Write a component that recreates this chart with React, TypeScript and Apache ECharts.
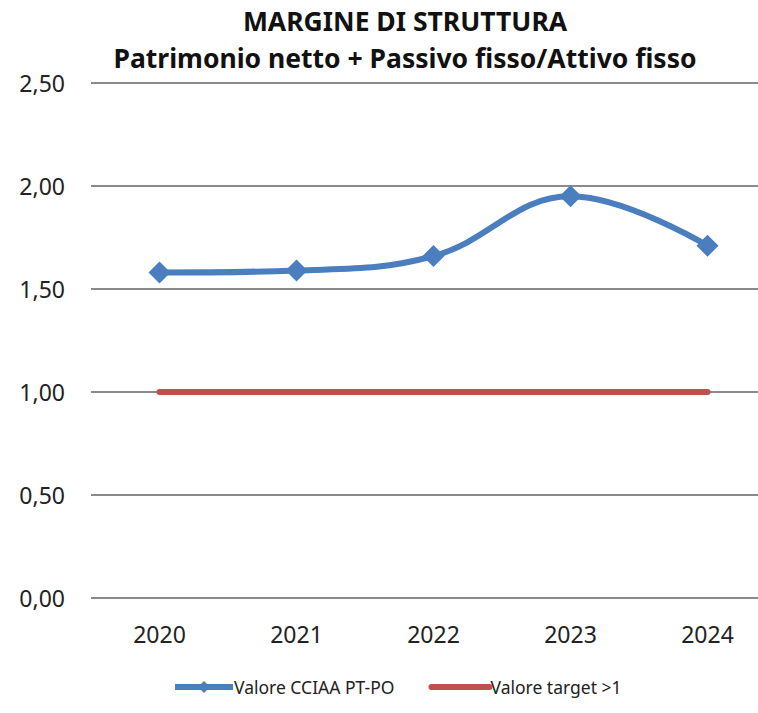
import React, { useEffect, useRef } from "react";
import * as echarts from "echarts";

const categories = ["2020", "2021", "2022", "2023", "2024"];
const valoreCCIAA = [1.58, 1.59, 1.66, 1.95, 1.71];
const valoreTarget = [1, 1, 1, 1, 1];
const seriesNames = ["Valore CCIAA PT-PO", "Valore target >1"];
const titleLines = ["MARGINE DI STRUTTURA", "Patrimonio netto + Passivo fisso/Attivo fisso"];

const FONT = "'Noto Sans', sans-serif";

export default function App() {
  const ref = useRef<HTMLDivElement>(null);
  useEffect(() => {
    if (!ref.current) return;
    const chart = echarts.init(ref.current, null, { renderer: "svg" });
    chart.setOption({
      animation: false,
      backgroundColor: "#ffffff",
      title: {
        text: titleLines.join("\n"),
        left: 400,
        textAlign: "center",
        top: -3,
        textStyle: {
          fontFamily: FONT,
          fontWeight: "bold",
          fontSize: 26.5,
          lineHeight: 37,
          color: "#111",
        },
      },
      grid: { left: 91, width: 685, top: 83, bottom: 115, outerBoundsMode: "none", containLabel: false },
      legend: {
        bottom: 12,
        left: 167,
        itemGap: 34,
        itemWidth: 58,
        itemHeight: 15,
        lineStyle: { width: 6 },
        textStyle: { fontFamily: FONT, fontSize: 17.5, color: "#222", padding: [0, 0, 0, -4] },
        data: [
          { name: seriesNames[0] },
          { name: seriesNames[1], itemStyle: { opacity: 0 } },
        ],
      },
      xAxis: {
        type: "category",
        data: categories,
        boundaryGap: true,
        axisLine: { show: false },
        axisTick: { show: false },
        axisLabel: { fontFamily: FONT, fontSize: 23, color: "#222", margin: 24 },
      },
      yAxis: {
        type: "value",
        min: 0,
        max: 2.5,
        interval: 0.5,
        axisLine: { show: false },
        axisTick: { show: false },
        axisLabel: {
          fontFamily: FONT,
          fontSize: 23,
          color: "#222",
          margin: 26,
          formatter: (v: number) => v.toFixed(2).replace(".", ","),
        },
        splitLine: { lineStyle: { color: "#8a8a8a", width: 2 } },
      },
      series: [
        {
          name: seriesNames[0],
          type: "line",
          data: valoreCCIAA,
          smooth: 0.4,
          symbol: "diamond",
          symbolSize: 22,
          color: "#4a7ebf",
          lineStyle: { width: 6, color: "#4a7ebf" },
          itemStyle: { color: "#4a7ebf" },
          z: 3,
        },
        {
          name: seriesNames[1],
          type: "line",
          data: valoreTarget,
          symbol: "none",
          color: "#c0504d",
          lineStyle: { width: 6, color: "#c0504d", cap: "round" },
          z: 2,
        },
      ],
    });
    return () => chart.dispose();
  }, []);
  return <div ref={ref} style={{ width: 758, height: 713, position: "absolute", left: 0, top: 0 }} />;
}
